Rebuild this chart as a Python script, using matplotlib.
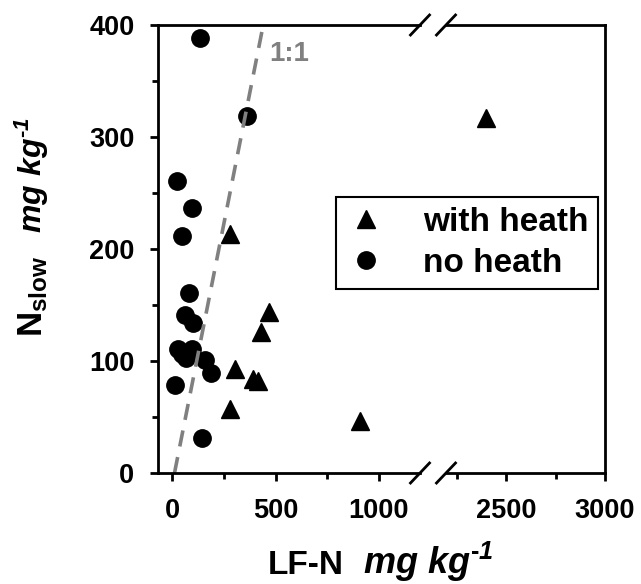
import numpy as np
import matplotlib
matplotlib.use('Agg')
import matplotlib.pyplot as plt
from matplotlib.ticker import MultipleLocator

# Data (LF-N vs N_slow, mg/kg)
heath_x = [277, 304, 390, 415, 280, 427, 470, 910, 2400]
heath_y = [213, 93, 84, 82, 57, 126, 144, 46, 317]
noheath_x = [132, 362, 24, 97, 46, 80, 59, 100, 27, 45, 64, 97, 156, 188, 11, 145]
noheath_y = [388, 319, 261, 237, 212, 161, 141, 134, 111, 106, 103, 111, 101, 89, 79, 31]

# 1:1 reference line end points
line_x = [10, 440]
line_y = [0, 400]

left_ticks = [0, 500, 1000]
right_ticks = [2500, 3000]

plt.rcParams['font.family'] = ['Liberation Sans', 'DejaVu Sans']
plt.rcParams['font.weight'] = 'bold'
plt.rcParams['mathtext.fontset'] = 'custom'
plt.rcParams['mathtext.rm'] = 'Liberation Sans:bold'
plt.rcParams['mathtext.bf'] = 'Liberation Sans:bold'
plt.rcParams['mathtext.it'] = 'Liberation Sans:bold:italic'
plt.rcParams['mathtext.bfit'] = 'Liberation Sans:bold:italic'

W, H = 641, 584
fig = plt.figure(figsize=(W / 100, H / 100), dpi=100)

# Axes in pixel coords -> figure fractions
def px_box(x0, x1, y_top, y_bot):
    return [x0 / W, 1 - y_bot / H, (x1 - x0) / W, (y_bot - y_top) / H]

ax_l = fig.add_axes(px_box(158, 420, 25, 473))
ax_r = fig.add_axes(px_box(446, 605, 25, 473), sharey=ax_l)

lw = 2.0
for ax in (ax_l, ax_r):
    ax.plot(heath_x, heath_y, '^', color='black', ms=13, linestyle='none',
            label='with heath')
    ax.plot(noheath_x, noheath_y, 'o', color='black', ms=12.5, linestyle='none',
            label='no heath')
    ax.set_ylim(0, 400)
    for s in ax.spines.values():
        s.set_linewidth(lw)
    ax.tick_params(axis='both', which='major', length=6, width=lw,
                   labelsize=19.5, direction='out')
    ax.tick_params(axis='both', which='minor', length=4, width=lw,
                   direction='out')
    ax.tick_params(axis='x', pad=12)
    ax.tick_params(axis='y', pad=11)

# Left segment
ax_l.set_xlim(-70, 1200)
ax_l.set_xticks(left_ticks)
ax_l.xaxis.set_minor_locator(MultipleLocator(250))
ax_l.yaxis.set_major_locator(MultipleLocator(100))
ax_l.yaxis.set_minor_locator(MultipleLocator(50))
ax_l.spines['right'].set_visible(False)
ax_l.plot(line_x, line_y, '--', color='#808080', lw=2.6, dashes=(4.5, 3))
ax_l.text(470, 374, '1:1', color='#808080', fontsize=20, fontweight='bold',
          va='center', ha='left')

# Right segment
ax_r.set_xlim(2195, 3000)
ax_r.set_xticks(right_ticks)
ax_r.xaxis.set_minor_locator(MultipleLocator(250))
ax_r.spines['left'].set_visible(False)
ax_r.tick_params(axis='y', which='both', left=False, labelleft=False)

# Break marks
def slash(ax, xfrac):
    bb = ax.get_position()
    dx = 9.5 / (bb.width * W)
    dy = 10 / (bb.height * H)
    for yf in (0, 1):
        ax.plot([xfrac - dx, xfrac + dx], [yf - dy, yf + dy], color='black',
                lw=2, transform=ax.transAxes, clip_on=False)

slash(ax_l, 1.0)
slash(ax_r, 0.0)

# Legend
h, l = ax_l.get_legend_handles_labels()
leg = fig.legend(h, l, loc='upper left',
                 bbox_to_anchor=(336 / W, 1 - 197 / H),
                 prop={'size': 24, 'weight': 'bold'}, fancybox=False,
                 edgecolor='black', framealpha=1, borderpad=0.3,
                 handletextpad=1.1, labelspacing=0.3, handlelength=1.2,
                 borderaxespad=0)
leg.get_frame().set_linewidth(1.5)

# Axis labels (name and unit as separate pieces)
unit = r'$\mathbfit{mg\ kg}^{\mathbfit{\text{-}1}}$'
fig.text(268 / W, 1 - 574 / H, 'LF-N', fontsize=24, ha='left', va='baseline')
fig.text(363 / W, 1 - 574 / H, unit, fontsize=26, ha='left', va='baseline')
fig.text(42 / W, 1 - 337 / H, r'$\mathbf{N_{slow}}$', fontsize=25,
         ha='left', va='baseline', rotation=90, rotation_mode='anchor')
fig.text(42 / W, 1 - 233 / H, unit, fontsize=23,
         ha='left', va='baseline', rotation=90, rotation_mode='anchor')

fig.savefig('out.png', dpi=100)
